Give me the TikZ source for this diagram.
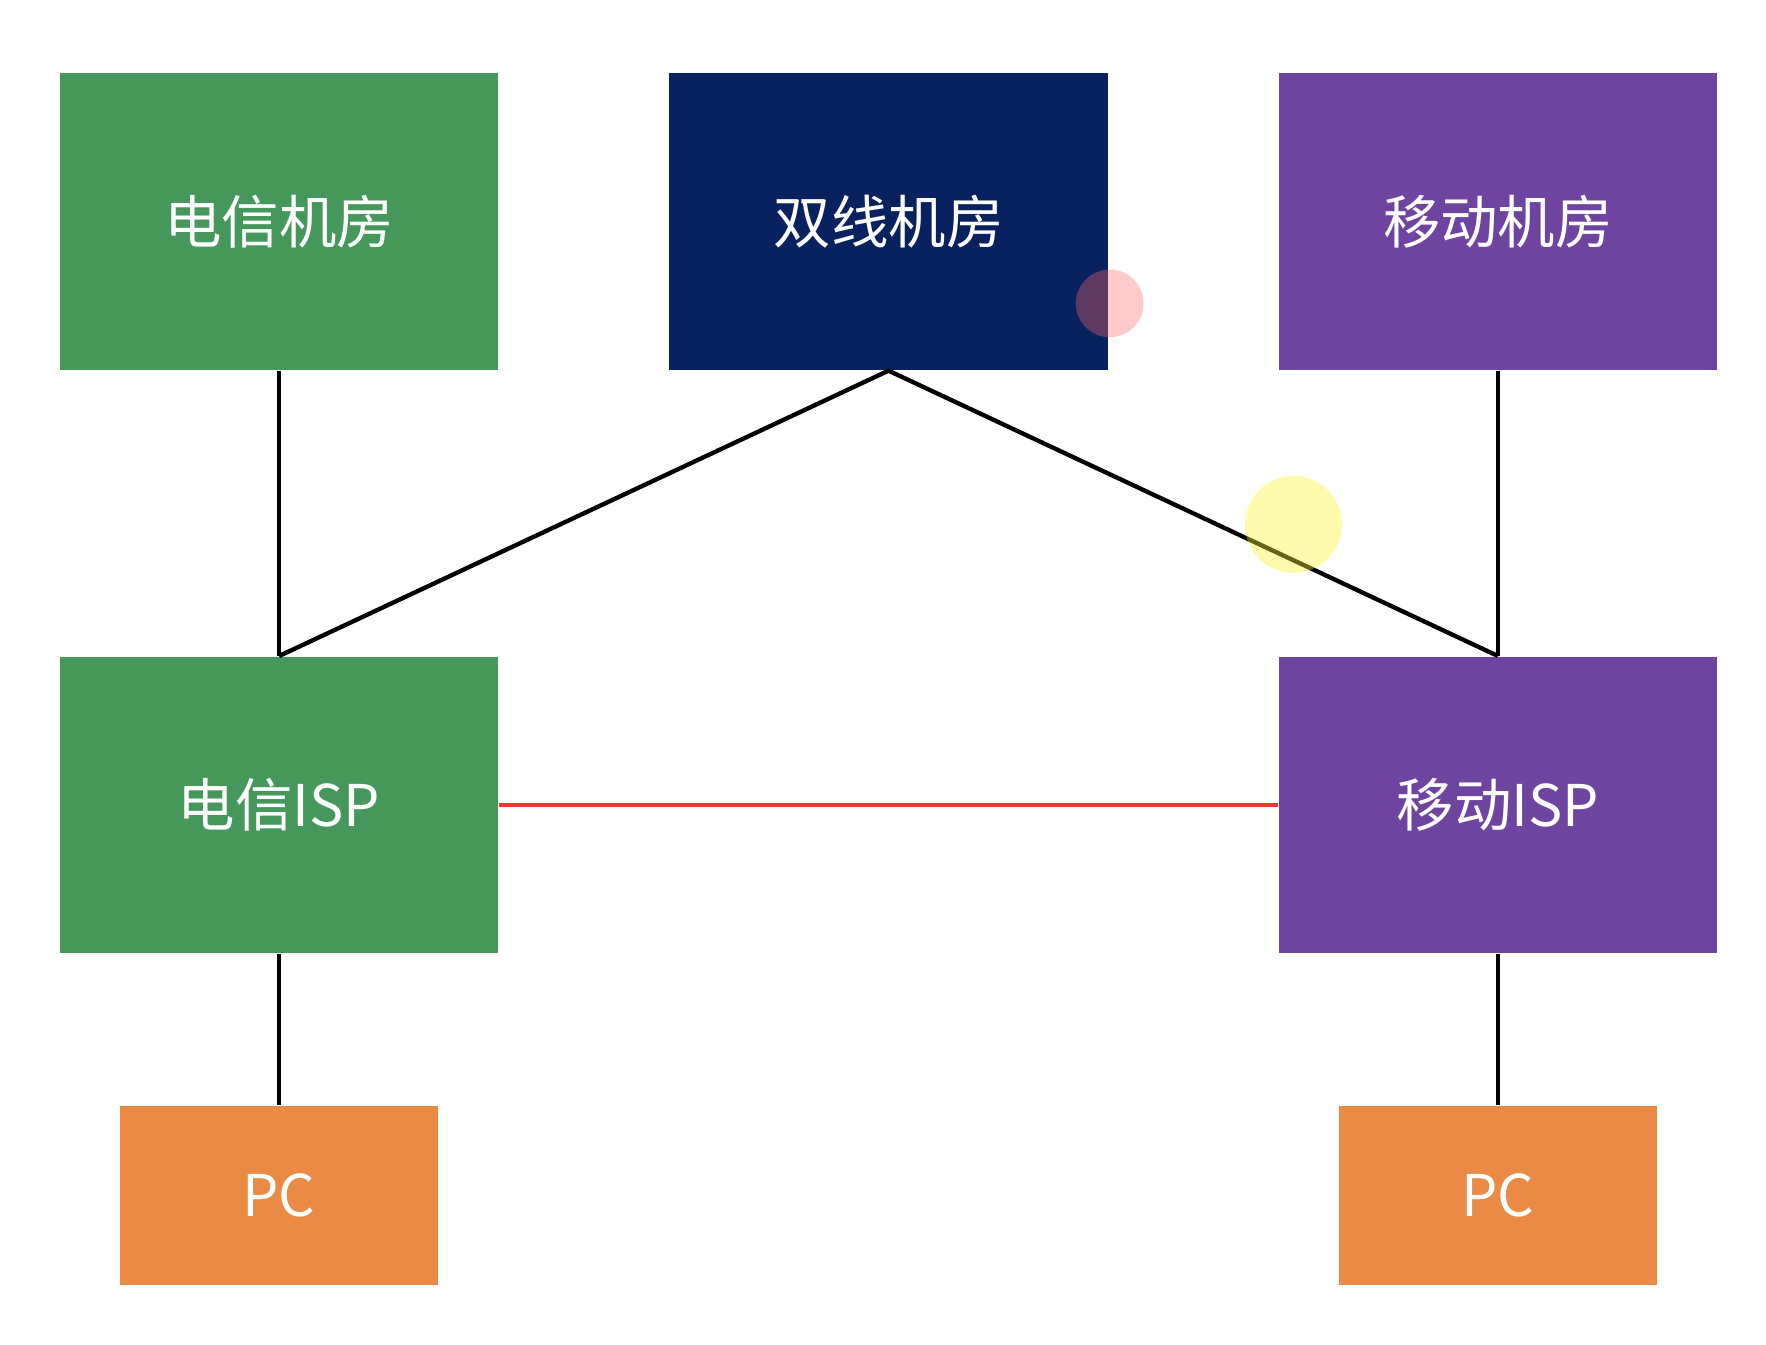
\documentclass[tikz,border=0pt]{standalone}
\usepackage{fontspec}
\setmainfont{Noto Sans CJK SC}
\usepackage{tikz}
\usetikzlibrary{positioning}

\definecolor{ctgreen}{HTML}{45975A}
\definecolor{dualnavy}{HTML}{082260}
\definecolor{cmpurple}{HTML}{6E44A0}
\definecolor{pcorange}{HTML}{EA8A44}
\definecolor{peerred}{HTML}{E8392A}

\begin{document}
\begin{tikzpicture}[
        block/.style={rectangle, inner sep=0pt, text=white,
                      minimum width=3.89cm, minimum height=2.63cm,
                      font=\fontsize{14.5}{17}\selectfont},
        pcbox/.style={block, fill=pcorange, minimum width=2.82cm, minimum height=1.59cm},
        line/.style={draw, black, line width=1.1pt}
    ]
    \useasboundingbox (0,0) rectangle (15.66,-11.92);

    \node [block, fill=ctgreen] (ctroom) at (2.475,-1.965) {电信机房};
    \node [block, fill=dualnavy, right=1.50cm of ctroom] (dualroom) {双线机房};
    \node [block, fill=cmpurple, right=1.50cm of dualroom] (cmroom) {移动机房};
    \node [block, fill=ctgreen, below=2.53cm of ctroom] (ctisp) {电信ISP};
    \node [block, fill=cmpurple, below=2.53cm of cmroom] (cmisp) {移动ISP};
    \node [pcbox, below=1.34cm of ctisp] (pcleft) {PC};
    \node [pcbox, below=1.34cm of cmisp] (pcright) {PC};

    \draw [line] (ctroom) -- (ctisp);
    \draw [line] (cmroom) -- (cmisp);
    \draw [line] (ctisp.north) -- (dualroom.south) -- (cmisp.north);
    \draw [line] (ctisp) -- (pcleft);
    \draw [line] (cmisp) -- (pcright);
    \draw [line, peerred] (ctisp) -- (cmisp);

    % Cursor marks
    \fill [red!60, opacity=0.35] (9.84,-2.69) circle (0.3);
    \fill [yellow!80, opacity=0.4] (11.47,-4.65) circle (0.43);
\end{tikzpicture}
\end{document}
